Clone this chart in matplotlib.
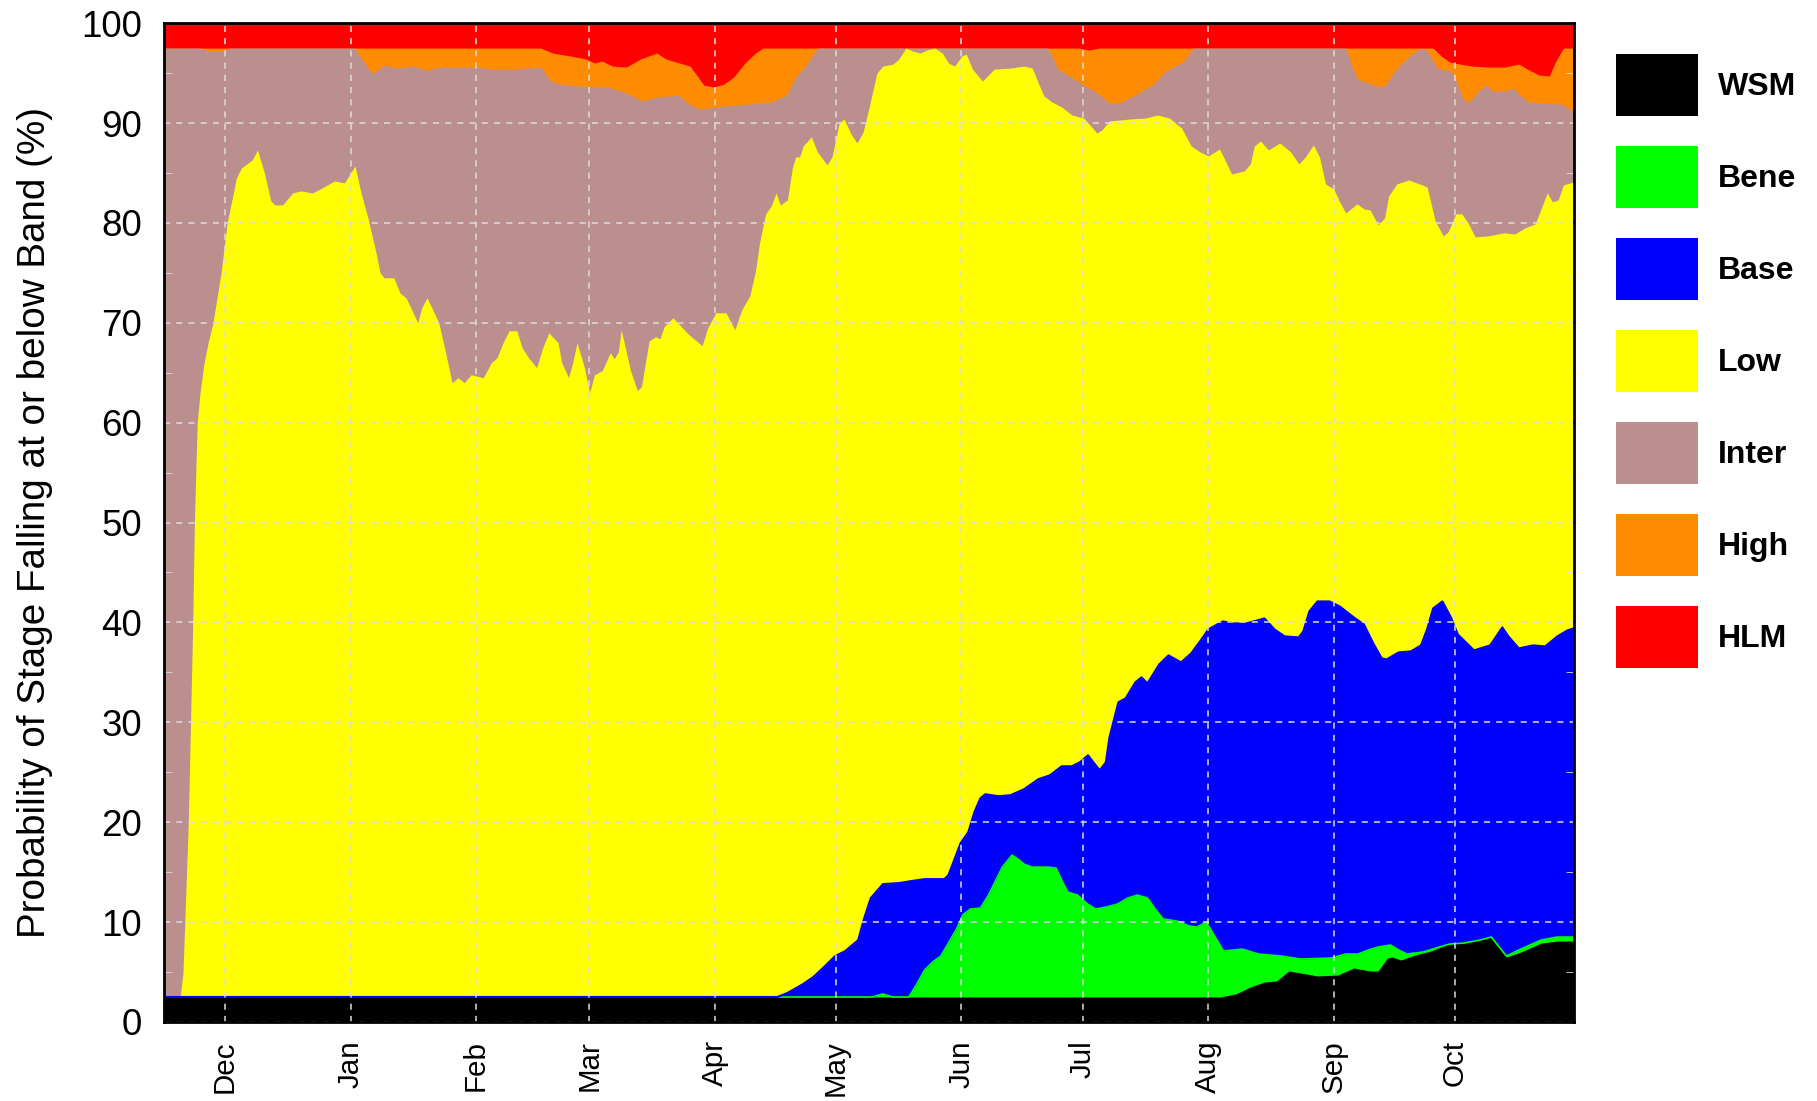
import matplotlib
matplotlib.use("Agg")
import matplotlib.pyplot as plt
import matplotlib.dates as mdates
from matplotlib.patches import Patch
from matplotlib.ticker import MultipleLocator
from datetime import datetime
import numpy as np

plt.rcParams['font.family'] = ['Liberation Sans', 'DejaVu Sans']

# x values are days counted from 16 Nov, y values cumulative probability (%)
start = mdates.date2num(datetime(2010, 11, 16))
last_day = 348.3

band_names = ["WSM", "Bene", "Base", "Low", "Inter", "High", "HLM"]
band_colours = ["#000000", "#00ff00", "#0000ff", "#ffff00", "#bc8f8f", "#ff8c00", "#ff0000"]

hlm_day = [0, 348.3]
hlm_val = [100, 100]

high_day = [0, 93, 96, 100.4, 104.3, 106.3, 108.2, 110.7, 114.2, 117.6, 121.7, 124, 126.5,
            129.9, 131.9, 133.3, 135.8, 138.3, 140.7, 143.7, 146.1, 147.9, 226, 228.5, 231,
            313.6, 315.6, 317.7, 320.2, 323.2, 327.2, 331.2, 334.8, 337.3, 339.8, 342.3,
            343.8, 345.8, 348.3]
high_val = [97.5, 97.5, 97, 96.7, 96.4, 96, 96.2, 95.7, 95.6, 96.4, 97, 96.4, 96.1,
            95.7, 94.6, 93.8, 93.6, 93.9, 94.6, 96.1, 97, 97.5, 97.5, 97.3, 97.5,
            97.5, 96.7, 96.1, 95.9, 95.7, 95.6, 95.6, 95.9, 95.3, 94.8, 94.7,
            96.1, 97.5, 97.5]

inter_day = [0, 9, 11, 14, 16, 47, 49.5, 51.3, 52.3, 54.3, 57.2, 61.6, 65, 68, 76.8, 80.8,
             86.7, 93, 95.5, 97.5, 106.8, 109.7, 114.2, 118.1, 121.6, 127, 128.5, 130.4,
             132.4, 136.3, 141.2, 147.1, 150, 153.8, 156, 158.4, 161.4, 218.4, 220.9, 223.8,
             227.2, 230.6, 233.6, 236, 239.5, 244.5, 247.4, 251.8, 254.3, 292, 293.5, 295,
             298, 300.6, 302, 304.1, 306.1, 308.6, 310.6, 312, 313.3, 314.6, 318, 319.2,
             320.7, 321.7, 323, 324.7, 326.7, 328.2, 331.2, 333.3, 334.8, 336.8, 339.3,
             345.3, 348.3]
inter_val = [97.5, 97.5, 97.2, 97.2, 97.5, 97.5, 96, 95, 95.2, 95.8, 95.5, 95.7, 95.3, 95.6, 95.6, 95.4,
             95.4, 95.6, 94.2, 93.9, 93.6, 93.6, 93, 92.2, 92.6, 92.8, 92.3, 91.7,
             91.4, 91.6, 91.8, 92, 92.1, 92.8, 94.6, 95.7, 97.5, 97.5, 95.4, 94.7,
             93.8, 93, 92, 92, 92.7, 93.9, 95.2, 96.1, 97.5, 97.5, 95.7, 94.4,
             93.9, 93.6, 93.9, 95.2, 96.1, 97, 97.5, 97.3, 96.4, 95.5, 95.2, 94.3,
             92.7, 92.1, 92.3, 93.2, 93.8, 93.2, 93.2, 93.5, 92.9, 92.2, 92,
             91.9, 91.2]

low_day = [0, 3.9, 4.6, 5.9, 7, 7.4, 8.1, 8.8, 9.8, 10.8, 12, 14, 15.5, 17.8, 19, 21.7, 23,
           24.7, 26.3, 27.3, 29.2, 31.7, 33.7, 36.6, 39, 42, 44.5, 47.1, 48.6, 50.3, 52.3,
           53.3, 54.3, 56.7, 58.2, 59.7, 60.9, 62.6, 63.6, 64.9, 66.1, 67.8, 69.5, 71.1,
           72.6, 74.1, 75.8, 78.8, 80.8, 82.2, 83.7, 85.2, 87.1, 88.4, 90, 92, 93.5, 95,
           97.3, 98.2, 99.9, 100.9, 102, 103.8, 105.1, 106.3, 108.2, 110.2, 111.2, 112.2,
           112.9, 115.2, 116.9, 117.9, 119.8, 121.4, 122.5, 123.5, 125.7, 129.4, 132.9,
           134.3, 136.3, 138.8, 141, 142.7, 144.7, 146.1, 147.1, 148.6, 150, 151.2, 152.2,
           154, 155.2, 156, 157, 157.9, 159.9, 161.4, 163.8, 165, 166.8, 168, 169.7, 171.2,
           172.7, 174.2, 176.1, 177.6, 180.1, 181.5, 183.3, 185, 186.9, 188.4, 190.4,
           192.3, 193.8, 195.3, 197.1, 198.2, 199.7, 202.2, 205.1, 209.1, 212.5, 214.5,
           215.9, 217.4, 219.4, 221.8, 224.3, 227.2, 229.2, 230.5, 231.7, 233.6, 238.6,
           242.5, 245.5, 248.4, 251.4, 253.8, 256, 258, 260.8, 263.8, 266.9, 268.4, 269.4,
           270.9, 272.9, 275.7, 278.4, 280.4, 282, 284, 285.5, 287, 289, 290.5, 292, 294.8,
           296.5, 298, 300, 301.6, 302.6, 304.6, 307.6, 312.1, 314.1, 316.1, 317.3, 319.2,
           320.7, 322.2, 324, 327.2, 331.2, 333.8, 336.3, 338.8, 339.8, 341.8, 343.1,
           344.5, 345.8, 348.3]
low_val = [2.5, 2.5, 5, 20, 40, 50, 60, 63, 66, 68, 70, 75, 80, 84.5, 85.5, 86.3, 87.3,
           85, 82.2, 81.8, 81.8, 83, 83.2, 83, 83.5, 84.2, 84, 85.7, 83, 80.5, 77,
           75, 74.5, 74.5, 73, 72.5, 71.5, 70, 71.5, 72.5, 71.5, 70, 67, 64,
           64.5, 64, 64.8, 64.5, 66, 66.5, 68, 69.2, 69.2, 67.5, 66.5, 65.5, 67.5, 69,
           68, 66, 64.5, 66, 68, 65.5, 63, 64.8, 65.2, 67, 66.4, 67.1,
           69.3, 65.2, 63.2, 63.6, 68.2, 68.6, 68.4, 69.6, 70.5, 68.9, 67.7,
           69.5, 71, 71, 69.3, 71.3, 72.7, 75.2, 78, 80.9, 81.7, 83, 81.8,
           82.3, 85.5, 86.6, 86.6, 87.7, 88.6, 87.1, 85.8, 86.6, 90, 90.4, 88.9, 88,
           89.1, 91.6, 95, 95.7, 95.9, 96.4, 97.5, 97.2, 97, 97.3, 97.5,
           97, 96, 95.7, 96.7, 96.9, 95.4, 94.2, 95.4, 95.5, 95.7, 95.5,
           94.1, 92.7, 92.1, 91.6, 90.8, 90.5, 89.6, 89, 89.3, 90.2, 90.4,
           90.5, 90.8, 90.5, 89.5, 87.7, 87.1, 86.7, 87.4, 84.9, 85.2, 85.9, 87.7,
           88.2, 87.3, 88, 87.1, 85.9, 86.6, 87.8, 86.6, 83.9, 83.4, 82.1, 81, 81.9,
           81.4, 81.3, 79.8, 80.5, 82.7, 83.9, 84.3, 83.6, 80.2, 78.7, 79.1, 80.9,
           80.9, 80, 78.6, 78.7, 79, 78.9, 79.5, 79.9, 80.9, 83, 82.1,
           82.3, 83.8, 84.1]

base_day = [0, 151.5, 154, 157.9, 160.4, 163.3, 165.8, 168.3, 171.5, 172.9, 174.6, 177.6,
            181.5, 184.5, 187.9, 192.8, 193.8, 195.3, 196.8, 198.7, 200.2, 201.7, 202.9,
            206.1, 209.1, 212.5, 216, 218.9, 221.8, 224.3, 226.3, 228.3, 229.6, 231.2,
            232.7, 233.6, 235.8, 237.6, 240, 241.5, 243, 245.9, 248.2, 251.3, 253.8,
            256.7, 258, 261.6, 264.5, 267.4, 271.9, 274.4, 276.9, 280.4, 281.5, 283, 285,
            288, 290.5, 294, 296.5, 298.8, 300.9, 302.1, 305.1, 308.1, 310.6, 312.1,
            313.6, 315.9, 318, 319.7, 321.7, 323.7, 327.7, 329.2, 330.7, 332.2, 334.8,
            338.3, 341.3, 344.3, 346.8, 348.3]
base_val = [2.5, 2.5, 2.9, 3.8, 4.5, 5.6, 6.6, 7.1, 8.2, 10.3, 12.4, 13.8,
            13.9, 14.1, 14.3, 14.3, 14.7, 16.3, 17.9, 19, 21, 22.4, 22.8,
            22.6, 22.7, 23.3, 24.3, 24.7, 25.6, 25.6, 26, 26.7, 26, 25.2,
            26, 28.5, 32, 32.4, 34, 34.5, 33.9, 35.8, 36.7, 36, 36.9,
            38.5, 39.3, 40.1, 39.9, 39.9, 40.4, 39.3, 38.6, 38.5, 39.1, 41.1, 42.1,
            42.1, 41.6, 40.5, 39.8, 37.9, 36.4, 36.3, 37, 37.1, 37.7, 39.3,
            41.4, 42.1, 40.5, 38.8, 38, 37.2, 37.7, 38.6, 39.5, 38.6, 37.4,
            37.7, 37.6, 38.6, 39.2, 39.4]

bene_day = [0, 175, 177.6, 180, 184, 186, 187.9, 189.9, 191.9, 193.8, 195.8, 197.3, 199.2,
            201.7, 203.7, 207.1, 209.5, 211, 212.5, 214.5, 218.4, 220.4, 221.9, 223.3,
            225.7, 228.2, 230.2, 232.7, 235.6, 238.1, 240.5, 243, 244.9, 246.9, 250.3,
            253.3, 255.2, 257.5, 261.8, 266.4, 270.4, 275.9, 280.9, 288.5, 292, 295,
            297.6, 300, 303.1, 305.1, 307.1, 311.1, 315.1, 317.7, 321.2, 325.2, 328,
            331.7, 335.3, 340.3, 344.3, 348.3]
bene_val = [2.5, 2.5, 2.8, 2.5, 2.5, 3.8, 5.2, 6, 6.6, 7.9, 9.3, 10.7, 11.3,
            11.4, 12.7, 15.5, 16.7, 16.3, 15.8, 15.5, 15.5, 15.4, 14.1, 13,
            12.7, 11.8, 11.3, 11.5, 11.8, 12.4, 12.7, 12.4, 11.3, 10.3, 10.1,
            9.6, 9.5, 10, 7.1, 7.3, 6.8, 6.6, 6.3, 6.4, 6.8, 6.8,
            7.2, 7.5, 7.7, 7.2, 6.8, 7, 7.5, 7.8, 7.9, 8.2, 8.5,
            6.6, 7.3, 8.2, 8.5, 8.5]

wsm_day = [0, 261, 264.8, 268.4, 271.9, 274.9, 277.9, 280.9, 285, 290, 294, 298, 300,
           302.3, 303.5, 305.6, 309.1, 313.1, 317.2, 321.2, 325.2, 327.7, 331.7, 335.3,
           340.3, 344.3, 348.3]
wsm_val = [2.5, 2.5, 2.8, 3.5, 4, 4.1, 5.1, 4.9, 4.6, 4.7, 5.4, 5.1, 5.1,
           6.4, 6.5, 6.2, 6.7, 7.1, 7.8, 7.9, 8.2, 8.5, 6.5, 7,
           7.9, 8.1, 8.1]

fig = plt.figure(figsize=(18.17, 11.01), dpi=100)
ax = fig.add_axes([0.0905, 0.0718, 0.7755, 0.9072])

series = [(hlm_day, hlm_val), (high_day, high_val), (inter_day, inter_val),
          (low_day, low_val), (base_day, base_val), (bene_day, bene_val), (wsm_day, wsm_val)]
# draw from the top band down so the lower bands sit on top
for (d, v), c in zip(series, band_colours[::-1]):
    x = start + np.array(d)
    ax.fill_between(x, 0, v, color=c, linewidth=0)

ax.plot(start + np.array(bene_day), bene_val, color="#00ff00", lw=1.2)
ax.plot(start + np.array(base_day), base_val, color="#0000ff", lw=1.5)

ax.set_xlim(start, start + last_day)
ax.set_ylim(0, 100)
ax.xaxis.set_major_locator(mdates.MonthLocator())
ax.xaxis.set_major_formatter(mdates.DateFormatter('%b'))
ax.yaxis.set_major_locator(MultipleLocator(10))
ax.yaxis.set_minor_locator(MultipleLocator(5))

ax.grid(True, which='major', color='#dddddd', linestyle=(0, (4, 4)), linewidth=1.1)
ax.set_axisbelow(False)
ax.tick_params(axis='x', which='both', direction='in', length=0, labelsize=21.3,
               labelrotation=90, pad=13)
ax.tick_params(axis='y', which='both', direction='in', right=True, color='#dddddd',
               labelsize=26.5, pad=16)
ax.tick_params(axis='y', which='minor', length=6)
ax.tick_params(axis='y', which='major', length=0)
for s in ax.spines.values():
    s.set_linewidth(2)
    s.set_zorder(5)

ax.set_ylabel("Probability of Stage Falling at or below Band (%)", fontsize=27.8)
ax.yaxis.set_label_coords(-0.079, 0.5)

handles = [Patch(facecolor=c, edgecolor='none') for c in band_colours]
leg = fig.legend(handles, band_names, loc='upper left', bbox_to_anchor=(0.8894, 0.951),
                 bbox_transform=fig.transFigure, frameon=False, borderpad=0, borderaxespad=0,
                 prop={'weight': 'bold', 'size': 23}, handlelength=2.57, handleheight=2.61,
                 labelspacing=0.94, handletextpad=0.63)

plt.savefig("out.png", dpi=100)
